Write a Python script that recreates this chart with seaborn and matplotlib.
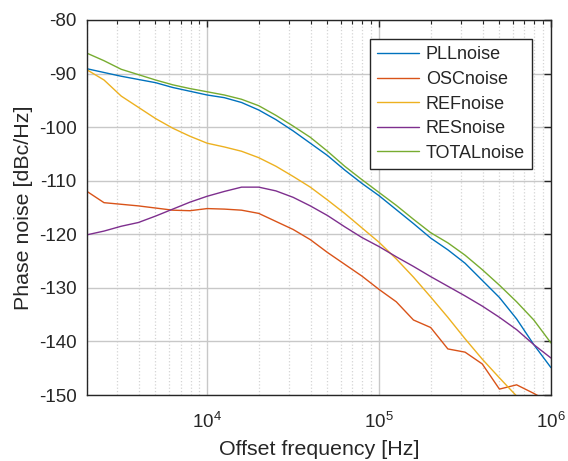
import numpy as np
import pandas as pd
import matplotlib
matplotlib.use("Agg")
import matplotlib.pyplot as plt
import matplotlib.ticker as mticker
import seaborn as sns

# Offset frequencies [Hz] (10 points per decade)
freq = [2000, 2512, 3162, 3981, 5012, 6310, 7943, 10000, 12589, 15849,
        19953, 25119, 31623, 39811, 50119, 63096, 79433, 100000, 125893,
        158489, 199526, 251189, 316228, 398107, 501187, 630957, 794328, 1000000]

# Phase noise contributions [dBc/Hz]
pll_noise = [-89.1, -89.8, -90.5, -91.1, -91.7, -92.6, -93.3, -94.0, -94.5, -95.4,
             -96.8, -98.6, -100.7, -103.0, -105.3, -108.0, -110.5, -112.8, -115.4,
             -118.0, -120.7, -122.9, -125.4, -128.6, -131.8, -135.8, -140.6, -144.9]
osc_noise = [-112.0, -114.1, -114.4, -114.7, -115.1, -115.5, -115.6, -115.2, -115.3, -115.5,
             -116.1, -117.6, -119.1, -121.0, -123.4, -125.6, -127.8, -130.3, -132.6,
             -136.0, -137.4, -141.4, -142.0, -144.2, -148.9, -148.1, -149.7, -151.5]
ref_noise = [-89.3, -91.2, -94.2, -96.3, -98.4, -100.2, -101.7, -103.0, -103.7, -104.5,
             -105.7, -107.3, -109.2, -111.2, -113.6, -116.1, -118.8, -121.5, -124.6,
             -128.0, -131.7, -135.5, -139.5, -143.3, -146.8, -150.2, -153.6, -157.0]
res_noise = [-120.1, -119.4, -118.5, -117.8, -116.6, -115.3, -114.0, -112.9, -112.0, -111.2,
             -111.2, -111.9, -113.1, -114.7, -116.5, -118.6, -120.6, -122.3, -124.2,
             -126.0, -127.9, -129.7, -131.5, -133.4, -135.5, -137.8, -140.6, -143.1]
total_noise = [-86.2, -87.6, -89.2, -90.2, -91.2, -92.1, -92.8, -93.4, -94.0, -94.8,
               -96.0, -97.8, -99.8, -101.9, -104.5, -107.3, -109.8, -112.2, -114.6,
               -117.2, -119.7, -121.6, -123.9, -126.6, -129.5, -132.6, -136.0, -140.3]

names = ["PLLnoise", "OSCnoise", "REFnoise", "RESnoise", "TOTALnoise"]
series = [pll_noise, osc_noise, ref_noise, res_noise, total_noise]
colors = ["#0072BD", "#D95319", "#EDB120", "#7E2F8E", "#77AC30"]

df = pd.concat(
    [pd.DataFrame({"freq": freq, "noise": s, "source": n}) for n, s in zip(names, series)],
    ignore_index=True,
)

sns.set_style("white")
plt.rcParams["font.family"] = ["Liberation Sans", "DejaVu Sans"]
plt.rcParams["axes.unicode_minus"] = False
plt.rcParams["mathtext.fontset"] = "custom"
plt.rcParams["mathtext.rm"] = "Liberation Sans"
plt.rcParams["mathtext.it"] = "Liberation Sans"

fig = plt.figure(figsize=(5.68, 4.61), dpi=100)
ax = fig.add_axes([87 / 568, 66 / 461, 464 / 568, 375 / 461])

sns.lineplot(data=df, x="freq", y="noise", hue="source", hue_order=names,
             palette=colors, linewidth=1.0, ax=ax, legend=False)

ax.set_xscale("log")
ax.set_xlim(2000, 1e6)
ax.set_ylim(-150, -80)
ax.set_yticks(np.arange(-150, -79, 10))
ax.xaxis.set_major_locator(mticker.LogLocator(base=10))
ax.xaxis.set_minor_locator(mticker.LogLocator(base=10, subs=np.arange(2, 10)))
ax.xaxis.set_minor_formatter(mticker.NullFormatter())

ax.set_axisbelow(True)
ax.grid(True, which="major", color="#c8c8c8", linestyle="-", linewidth=1.0)
ax.grid(True, which="minor", axis="x", color="#d4d4d4", linestyle=":", linewidth=0.9)

for sp in ax.spines.values():
    sp.set_color("#262626")
    sp.set_linewidth(1.0)
ax.tick_params(which="both", direction="in", top=True, right=True,
               colors="#262626", labelsize=13.5)
ax.tick_params(which="major", length=5, width=1.0)
ax.tick_params(which="minor", length=3, width=0.8)
ax.tick_params(axis="y", pad=7.5)
ax.tick_params(axis="x", pad=12)

ax.set_xlabel("Offset frequency [Hz]", fontsize=15.4, color="#262626", labelpad=6)
ax.set_ylabel("Phase noise [dBc/Hz]", fontsize=15.4, color="#262626")

handles = [plt.Line2D([], [], color=c, linewidth=1.0) for c in colors]
leg = ax.legend(handles, names, loc="upper right", bbox_to_anchor=(0.959, 0.949),
                borderaxespad=0, fontsize=13, frameon=True, fancybox=False,
                framealpha=1, edgecolor="#262626", handlelength=2.35,
                handletextpad=0.35, labelspacing=0.42, borderpad=0.4)
leg.get_frame().set_linewidth(1.0)

fig.savefig("out.png", dpi=100)
